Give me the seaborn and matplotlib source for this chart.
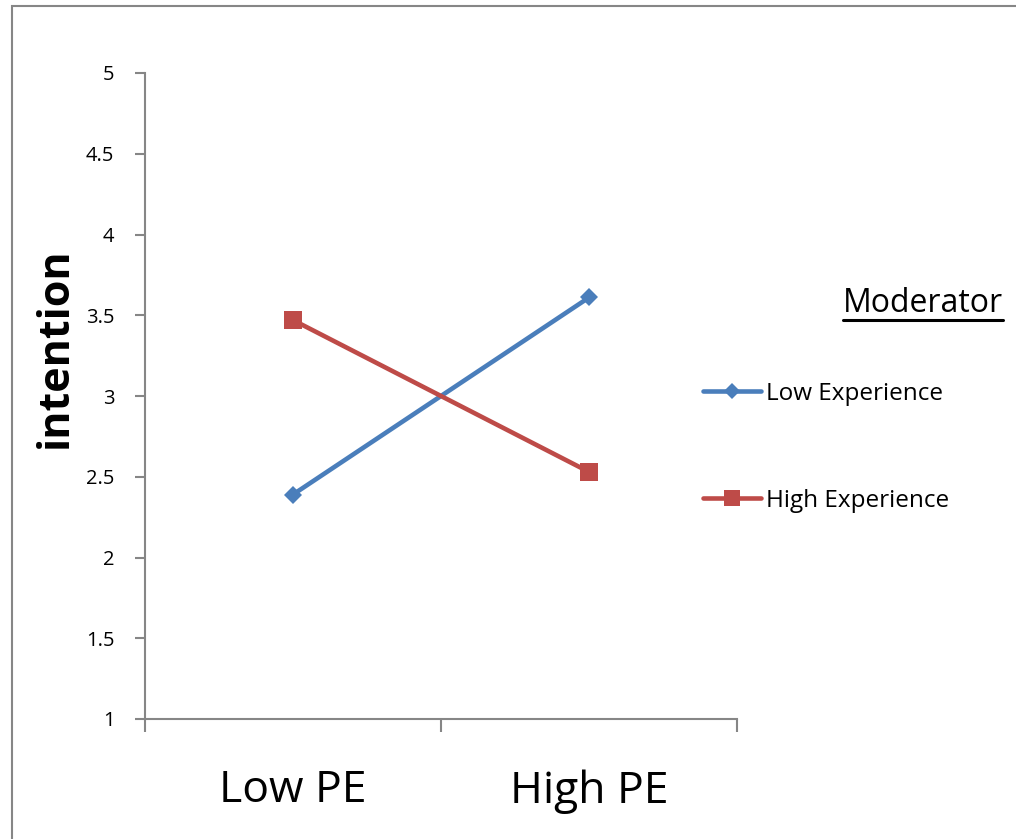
import matplotlib
matplotlib.use("Agg")
import matplotlib.pyplot as plt
import seaborn as sns
import pandas as pd
from matplotlib.patches import Rectangle
from matplotlib.lines import Line2D

# Interaction plot data
pe_levels = ["Low PE", "High PE"]
low_experience = [2.39, 3.61]
high_experience = [3.47, 2.53]
series_names = ["Low Experience", "High Experience"]
y_ticks = [1, 1.5, 2, 2.5, 3, 3.5, 4, 4.5, 5]
y_tick_labels = ["1", "1.5", "2", "2.5", "3", "3.5", "4", "4.5", "5"]

df = pd.DataFrame({
    "PE": pe_levels * 2,
    "intention": low_experience + high_experience,
    "Moderator": [series_names[0]] * 2 + [series_names[1]] * 2,
})

sns.set_theme(style="white")
plt.rcParams["font.family"] = ["Open Sans", "DejaVu Sans"]
plt.rcParams["text.color"] = "black"
plt.rcParams["xtick.labelcolor"] = "black"
plt.rcParams["ytick.labelcolor"] = "black"

W, H = 1016, 839
fig = plt.figure(figsize=(W / 100, H / 100), dpi=100)
ax = fig.add_axes([145 / W, (H - 719) / H, (737 - 145) / W, (719 - 73) / H])

palette = {series_names[0]: "#4a7ebb", series_names[1]: "#be4b48"}
markers = {series_names[0]: "D", series_names[1]: "s"}
sizes = {series_names[0]: 9, series_names[1]: 13}

sns.lineplot(data=df, x="PE", y="intention", hue="Moderator", style="Moderator",
             palette=palette, markers=markers, dashes=False, linewidth=3.3,
             markeredgewidth=0, ax=ax, legend=False, sort=False)
for line, name in zip(ax.get_lines(), series_names):
    line.set_markersize(sizes[name])

ax.set_xlim(-0.5, 1.5)
ax.set_ylim(1, 5)
ax.set_yticks(y_ticks)
ax.set_yticklabels(y_tick_labels, fontsize=14.5)
ax.set_xticks([-0.5, 0.5, 1.5])
ax.set_xticklabels(["", "", ""])
ax.set_xticks([0, 1], minor=True)
ax.set_xticklabels(pe_levels, minor=True, fontsize=32)
ax.tick_params(axis="x", which="major", direction="out", length=9, width=1.5,
               color="#868686", bottom=True)
ax.tick_params(axis="x", which="minor", length=0, pad=36)
ax.tick_params(axis="y", direction="out", length=7, width=1.5, color="#868686",
               left=True, pad=15)
ax.set_xlabel("")
ax.set_ylabel("")
fig.text(55 / W, 1 - 348 / H, "intention", fontsize=31, fontweight="bold",
         rotation=90, ha="center", va="center", color="black")

for side in ["top", "right"]:
    ax.spines[side].set_visible(False)
for side in ["left", "bottom"]:
    ax.spines[side].set_color("#868686")
    ax.spines[side].set_linewidth(1.5)

# Legend
handles = [Line2D([], [], color=palette[n], marker=markers[n], markersize=sizes[n] * 0.9,
                  markeredgewidth=0, linewidth=3.3) for n in series_names]
leg = fig.legend(handles, series_names, loc="upper left",
                 bbox_to_anchor=(703 / W, 1 - 382 / H), frameon=False,
                 fontsize=17.5, handlelength=2.4, handletextpad=0.2,
                 labelspacing=3.4, borderaxespad=0, borderpad=0)

# Legend heading with underline
title = fig.text(1003 / W, 1 - 304 / H, "Moderator", fontsize=23,
                 ha="right", va="center", color="black")
fig.canvas.draw()
bb = title.get_window_extent()
fig.add_artist(Line2D([bb.x0 / W, bb.x1 / W], [(bb.y0 + 1) / H, (bb.y0 + 1) / H],
                      color="black", linewidth=2.2, transform=fig.transFigure))

# Chart-area frame
fig.add_artist(Rectangle((12 / W, -0.1), 1.2, 1 - 6 / H + 0.1, fill=False,
                         edgecolor="#868686", linewidth=1.5,
                         transform=fig.transFigure))

fig.savefig("out.png", dpi=100)
